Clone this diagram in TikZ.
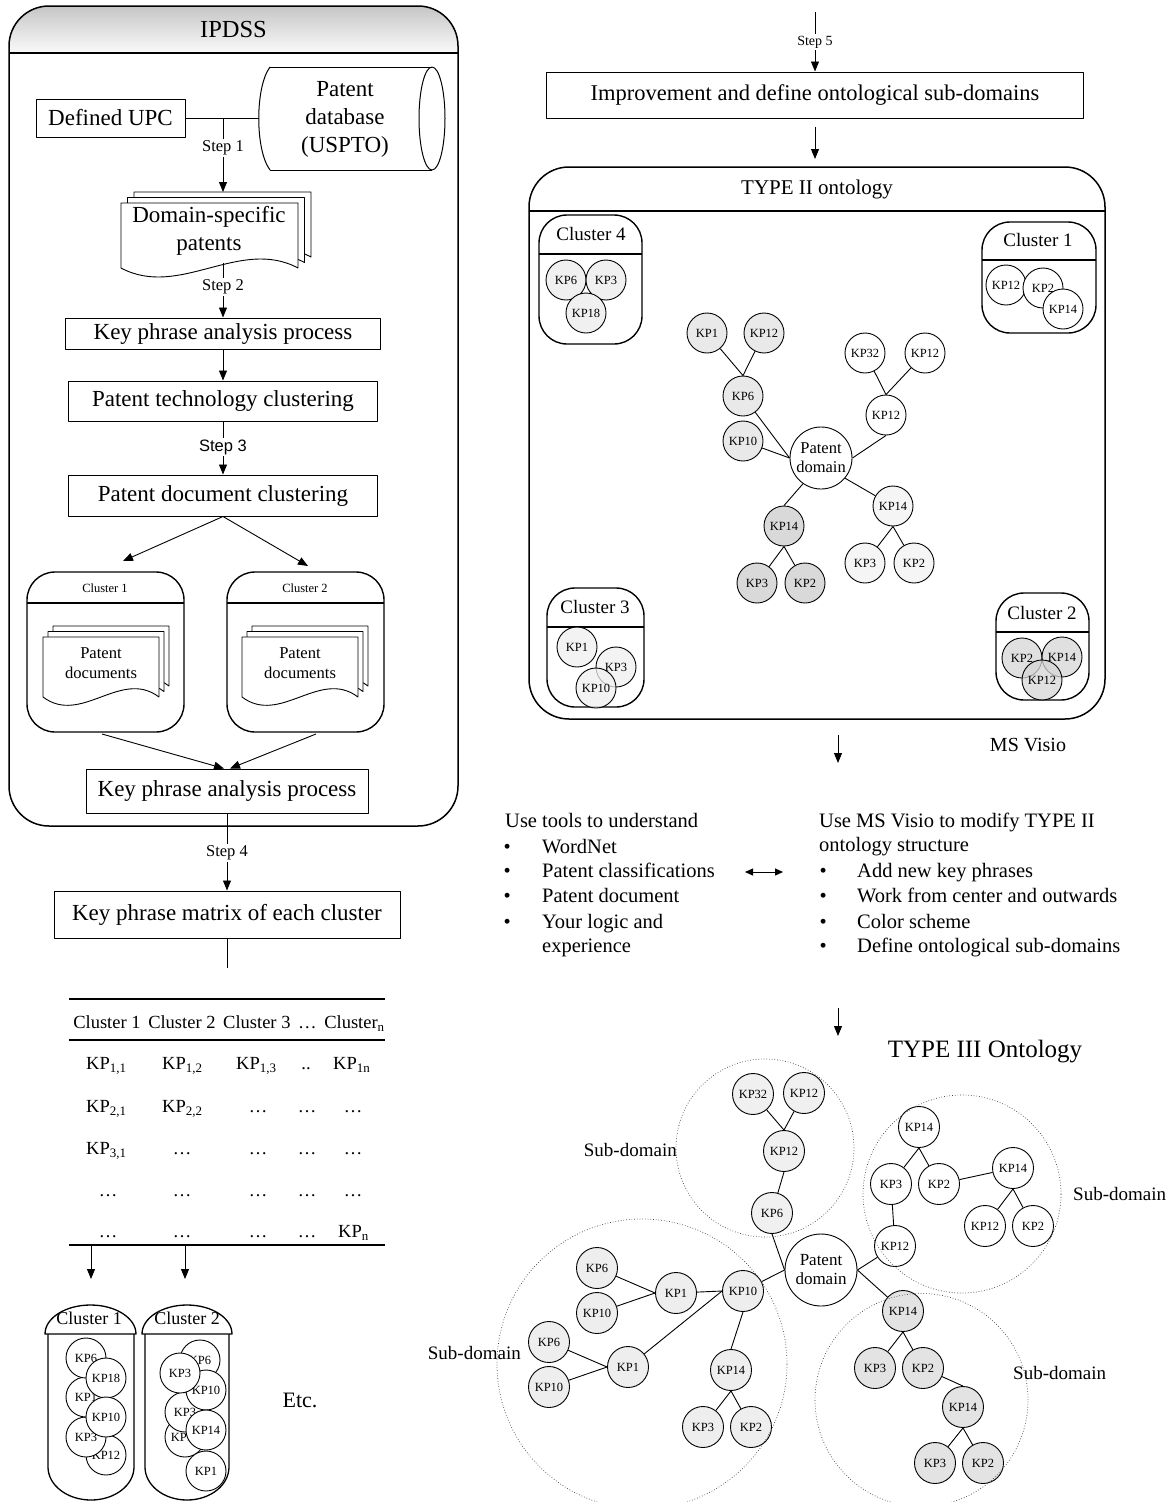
\documentclass[tikz,border=0pt]{standalone}
\usepackage{fontspec}
\setmainfont{Liberation Serif}
\newfontfamily\stepsans{Liberation Sans}
\usetikzlibrary{arrows.meta}
\newcommand{\fsz}[2]{\fontsize{#1}{#2}\selectfont}

% one paper sheet with a wavy lower edge: left, top, width, height
\newcommand{\papersheet}[4]{%
  \pgfmathsetmacro\psR{#1+#3}%
  \pgfmathsetmacro\psB{#2+#4}%
  \pgfmathsetmacro\psCa{#1+0.67*#3}%
  \pgfmathsetmacro\psCb{#1+0.33*#3}%
  \pgfmathsetmacro\psUp{#2+0.52*#4}%
  \pgfmathsetmacro\psDn{#2+1.48*#4}%
  \filldraw[fill=white, line width=0.9pt] (#1,#2) -- (\psR,#2) -- (\psR,\psB)
     .. controls (\psCa,\psUp) and (\psCb,\psDn) .. (#1,\psB) -- cycle;}
% three stacked sheets: left, top, width, height, x step, y step
\newcommand{\paperstack}[6]{%
  \papersheet{#1+2*#5}{#2-2*#6}{#3}{#4}%
  \papersheet{#1+#5}{#2-#6}{#3}{#4}%
  \papersheet{#1}{#2}{#3}{#4}}

\begin{document}
\begin{tikzpicture}[x=1pt, y=-1pt, line join=round,
  lbox/.style={draw, line width=1pt, inner sep=0pt, font=\fsz{23}{27}},
  arr/.style={line width=0.9pt, -{Triangle[length=10pt,width=8pt]}},
  conn/.style={line width=0.9pt},
  steplbl/.style={fill=white, inner sep=1.5pt, font=\fsz{16.5}{19}},
  holder/.style={draw, line width=1.4pt, rounded corners=28pt, inner sep=0pt},
  kp/.style={circle, draw, line width=0.9pt, minimum size=40pt, inner sep=0pt,
             font=\fsz{12.5}{14}, fill=white},
  kpb/.style={kp, minimum size=41pt},
  seeA/.style={fill=gray!12, fill opacity=0.75, text opacity=1},
  seeB/.style={fill=gray!32, fill opacity=0.75, text opacity=1},
  subdom/.style={dotted, line width=0.7pt, black!75},
  sublbl/.style={inner sep=0pt, font=\fsz{19}{22}},
  listtxt/.style={anchor=west, inner sep=0pt, font=\fsz{20.5}{25},
                  text height=14pt, text depth=4pt},
  tabtxt/.style={inner sep=0pt, font=\fsz{18.5}{22}, text height=13pt, text depth=4pt},
  ctitle/.style={inner sep=0pt, font=\fsz{19}{22}},
  pdnode/.style={circle, draw, line width=0.9pt, fill=white, inner sep=0pt, align=center}
]
\fill[white] (0,0) rectangle (1171,1502);
\useasboundingbox (0,0) rectangle (1171,1502);

% ================= IPDSS container =================
\begin{scope}
  \clip[rounded corners=40pt] (9,6) rectangle (458,826);
  \shade[top color=gray!45, bottom color=gray!4] (9,6) rectangle (458,53);
\end{scope}
\node[draw, line width=1.5pt, rounded corners=40pt, minimum width=449pt,
      minimum height=820pt, inner sep=0pt] (ipdss) at (233.5,416) {};
\draw[line width=1.3pt] (9,53) -- (458,53);
\node[font=\fsz{24.5}{28}] (ipdssT) at (233.5,30) {IPDSS};

% source boxes
\node[lbox, minimum width=149pt, minimum height=38pt] (upc) at (110.5,118) {Defined UPC};

% patent database drum
\fill[white] (270,67) -- (432,67) -- (432,170) -- (270,170)
   .. controls (255,150) and (255,87) .. (270,67) -- cycle;
\fill[white] (432,118.5) ellipse [x radius=13pt, y radius=51.5pt];
\draw[line width=1pt] (270,67) -- (432,67);
\draw[line width=1pt] (270,170) -- (432,170);
\draw[line width=1pt] (270,170) .. controls (255,150) and (255,87) .. (270,67);
\draw[line width=1pt] (432,118.5) ellipse [x radius=13pt, y radius=51.5pt];
\node[align=center, font=\fsz{23}{28}] (db) at (345,119) {Patent\\database\\(USPTO)};
\coordinate (dbin) at (259,118);
\coordinate (j1) at (223,118);

% domain-specific patents
\paperstack{121}{203}{177}{65}{6.5}{5.5}
\node[align=center, font=\fsz{23}{28}] (dsp) at (209,231) {Domain-specific\\patents};
\coordinate (dsptop) at (223,192);
\coordinate (dspbot) at (223,263);

% process boxes
\node[lbox, minimum width=315pt, minimum height=31pt] (kpa1) at (223,333.5) {Key phrase analysis process};
\node[lbox, minimum width=309pt, minimum height=40pt] (ptc) at (223,401) {Patent technology clustering};
\node[lbox, minimum width=309pt, minimum height=41pt] (pdc) at (223,495.5) {Patent document clustering};

% document clusters
\node[holder, minimum width=157pt, minimum height=160pt] (lc1) at (105.5,652) {};
\draw[line width=1.4pt] (27,603) -- (184,603);
\node[font=\fsz{12.5}{15}] (lc1t) at (105,588) {Cluster 1};
\paperstack{43}{637}{116}{60}{5}{5.5}
\node[align=center, font=\fsz{16.6}{20}] (lc1d) at (101,663) {Patent\\documents};

\node[holder, minimum width=157pt, minimum height=160pt] (lc2) at (305.5,652) {};
\draw[line width=1.4pt] (227,603) -- (384,603);
\node[font=\fsz{12.5}{15}] (lc2t) at (305,588) {Cluster 2};
\paperstack{242}{637}{116}{60}{5}{5.5}
\node[align=center, font=\fsz{16.6}{20}] (lc2d) at (300,663) {Patent\\documents};

\coordinate (lc1a) at (123,561);
\coordinate (lc2a) at (308,566);
\coordinate (lc1b) at (102,734);
\coordinate (lc2b) at (316,734);

\node[lbox, minimum width=282pt, minimum height=44pt] (kpa2) at (227,791) {Key phrase analysis process};
\node[lbox, minimum width=346pt, minimum height=47pt] (kpm) at (227,914.5) {Key phrase matrix of each cluster};
\coordinate (kpmend) at (227,968);

% connectors of the left column
\draw[conn] (upc.east) -- (dbin);
\draw[arr] (j1) -- (dsptop);
\node[steplbl] (st1) at (223,148) {Step 1};
\draw[arr] (dspbot) -- (kpa1.north);
\node[steplbl] (st2) at (223,287) {Step 2};
\draw[arr] (kpa1.south) -- (ptc.north);
\draw[arr] (ptc.south) -- (pdc.north);
\node[steplbl, font=\stepsans\fsz{16.5}{19}] (st3) at (223,447) {Step 3};
\draw[arr] (pdc.south) -- (lc1a);
\draw[arr] (pdc.south) -- (lc2a);
\draw[arr] (lc1b) -- ([xshift=-3pt]kpa2.north);
\draw[arr] (lc2b) -- ([xshift=3pt]kpa2.north);
\draw[arr] (kpa2.south) -- (kpm.north);
\node[steplbl] (st4) at (227,853) {Step 4};
\draw[conn] (kpm.south) -- (kpmend);

% ================= key phrase matrix =================
\draw[line width=2.2pt] (69,999) -- (385,999);
\draw[line width=1.8pt] (69,1040) -- (385,1040);
\draw[line width=2.2pt] (69,1245) -- (385,1245);
\node[tabtxt] (th) at (229,1024) {Cluster 1\hspace{3pt} Cluster 2\hspace{3pt} Cluster 3\hspace{3pt} …\hspace{3pt} Cluster\textsubscript{n}};
% row 1
\node[tabtxt, anchor=west] (m11) at (86,1065) {KP\textsubscript{1,1}};
\node[tabtxt, anchor=west] (m12) at (162,1065) {KP\textsubscript{1,2}};
\node[tabtxt, anchor=west] (m13) at (236,1065) {KP\textsubscript{1,3}};
\node[tabtxt] (m14) at (306,1065) {..};
\node[tabtxt, anchor=west] (m15) at (333,1065) {KP\textsubscript{1n}};
% row 2
\node[tabtxt, anchor=west] (m21) at (86,1108) {KP\textsubscript{2,1}};
\node[tabtxt, anchor=west] (m22) at (162,1108) {KP\textsubscript{2,2}};
\node[tabtxt] (m23) at (258,1108) {…};
\node[tabtxt] (m24) at (307,1108) {…};
\node[tabtxt] (m25) at (353,1108) {…};
% row 3
\node[tabtxt, anchor=west] (m31) at (86,1150) {KP\textsubscript{3,1}};
\node[tabtxt] (m32) at (182,1150) {…};
\node[tabtxt] (m33) at (258,1150) {…};
\node[tabtxt] (m34) at (307,1150) {…};
\node[tabtxt] (m35) at (353,1150) {…};
% row 4
\node[tabtxt] (m41) at (108,1192) {…};
\node[tabtxt] (m42) at (182,1192) {…};
\node[tabtxt] (m43) at (258,1192) {…};
\node[tabtxt] (m44) at (307,1192) {…};
\node[tabtxt] (m45) at (353,1192) {…};
% row 5
\node[tabtxt] (m51) at (108,1233) {…};
\node[tabtxt] (m52) at (182,1233) {…};
\node[tabtxt] (m53) at (258,1233) {…};
\node[tabtxt] (m54) at (307,1233) {…};
\node[tabtxt, anchor=west] (m55) at (338,1233) {KP\textsubscript{n}};

\coordinate (tc1) at (91,1246);
\coordinate (tc1e) at (91,1279);
\coordinate (tc2) at (185,1246);
\coordinate (tc2e) at (185,1279);
\draw[arr] (tc1) -- (tc1e);
\draw[arr] (tc2) -- (tc2e);

% ================= cluster capsules =================
\filldraw[fill=white, line width=1.3pt] (48,1334) -- (48,1467)
  .. controls (48,1485.2) and (67.25,1500) .. (91,1500)
  .. controls (114.75,1500) and (134,1485.2) .. (134,1467) -- (134,1334);
\filldraw[fill=white, line width=1.3pt] (45,1334) .. controls (45,1318) and (65.4,1305) .. (90.5,1305)
  .. controls (115.6,1305) and (136,1318) .. (136,1334) -- cycle;
\node[ctitle, font=\fsz{18}{21}] (p1t) at (89,1318) {Cluster 1};
\node[kp] (p1k12) at (106,1455) {KP12};
\node[kp] (p1k3) at (86,1437) {KP3};
\node[kp] (p1k1) at (86,1397) {KP1};
\node[kp] (p1k6) at (86,1358) {KP6};
\node[kp] (p1k18) at (106,1378) {KP18};
\node[kp] (p1k10) at (106,1417) {KP10};

\filldraw[fill=white, line width=1.3pt] (145,1334) -- (145,1467)
  .. controls (145,1485.2) and (163.8,1500) .. (187,1500)
  .. controls (210.2,1500) and (229,1485.2) .. (229,1467) -- (229,1334);
\filldraw[fill=white, line width=1.3pt] (142,1334) .. controls (142,1318) and (162.15,1305) .. (187,1305)
  .. controls (211.85,1305) and (232,1318) .. (232,1334) -- cycle;
\node[ctitle, font=\fsz{18}{21}] (p2t) at (187,1318) {Cluster 2};
\node[kp] (p2k6) at (200,1360) {KP6};
\node[kp] (p2k12) at (185,1437) {KP12};
\node[kp] (p2k3b) at (185,1412) {KP3};
\node[kp] (p2k10) at (206,1390) {KP10};
\node[kp] (p2k14) at (206,1430) {KP14};
\node[kp] (p2k3) at (180,1373) {KP3};
\node[kp] (p2k1) at (206,1471) {KP1};

\node[font=\fsz{22}{26}] (etc) at (300,1400) {Etc.};

% ================= right column: improvement step =================
\coordinate (s5a) at (815,12);
\node[lbox, minimum width=537pt, minimum height=46pt, font=\fsz{22.5}{26}] (imp) at (815,95)
  {Improvement and define ontological sub-domains};
\draw[arr] (s5a) -- (imp.north);
\node[steplbl, font=\fsz{14}{16}] (st5) at (815,42) {Step 5};
\coordinate (impa) at (815,127);
\coordinate (t2a) at (815,159);
\draw[arr] (impa) -- (t2a);

% ================= TYPE II ontology =================
\node[draw, line width=1.5pt, rounded corners=40pt, minimum width=576pt,
      minimum height=552pt, inner sep=0pt] (t2) at (817,443) {};
\draw[line width=1.3pt] (529,211) -- (1105,211);
\node[font=\fsz{21}{24}] (t2t) at (817,189) {TYPE II ontology};

% cluster 4
\node[holder, minimum width=103pt, minimum height=129pt] (c4) at (590.5,279.5) {};
\draw[line width=1.4pt] (539,254) -- (642,254);
\node[ctitle] (c4t) at (591,234) {Cluster 4};
\node[kp, fill=gray!12] (c4k6) at (566,280) {KP6};
\node[kp, fill=gray!12] (c4k3) at (606,280) {KP3};
\node[kp, fill=gray!12] (c4k18) at (586,313) {KP18};

% cluster 1
\node[holder, minimum width=114pt, minimum height=111pt] (c1) at (1039,277.5) {};
\draw[line width=1.4pt] (982,260) -- (1096,260);
\node[ctitle] (c1t) at (1038,240) {Cluster 1};
\node[kp] (c1k12) at (1006,285) {KP12};
\node[kp] (c1k2) at (1043,288) {KP2};
\node[kp] (c1k14) at (1063,309) {KP14};

% cluster 3
\node[holder, minimum width=97pt, minimum height=119pt] (c3) at (595.5,647.5) {};
\draw[line width=1.4pt] (547,627) -- (644,627);
\node[ctitle] (c3t) at (595,607) {Cluster 3};
\node[kp, seeA] (c3k1) at (577,647) {KP1};
\node[kp, seeA] (c3k3) at (616,667) {KP3};
\node[kp, seeA] (c3k10) at (596,688) {KP10};

% cluster 2
\node[holder, minimum width=93pt, minimum height=107pt] (c2) at (1042.5,646.5) {};
\draw[line width=1.4pt] (996,632) -- (1089,632);
\node[ctitle] (c2t) at (1042,613) {Cluster 2};
\node[kp, seeB] (c2k2) at (1022,658) {KP2};
\node[kp, seeB] (c2k14) at (1062,657) {KP14};
\node[kp, seeB] (c2k12) at (1042,680) {KP12};

% key phrase tree
\node[pdnode, minimum size=62pt, font=\fsz{16.5}{19}] (t2pd) at (821,458) {Patent\\domain};
\node[kp, fill=gray!17] (t2k1) at (707,333) {KP1};
\node[kp, fill=gray!17] (t2k12a) at (764,333) {KP12};
\node[kp, fill=gray!17] (t2k6) at (743,396) {KP6};
\node[kp, fill=gray!17] (t2k10) at (743,441) {KP10};
\node[kp] (t2k32) at (865,353) {KP32};
\node[kp] (t2k12b) at (925,353) {KP12};
\node[kp] (t2k12m) at (886,415) {KP12};
\node[kp, fill=gray!30] (t2k14a) at (784,526) {KP14};
\node[kp, fill=gray!30] (t2k3a) at (757,583) {KP3};
\node[kp, fill=gray!30] (t2k2a) at (805,583) {KP2};
\node[kp, fill=gray!8] (t2k14b) at (893,506) {KP14};
\node[kp, fill=gray!8] (t2k3b) at (865,563) {KP3};
\node[kp, fill=gray!8] (t2k2b) at (914,563) {KP2};

\draw[conn] (t2k6.north) -- (t2k1);
\draw[conn] (t2k6.north) -- (t2k12a);
\draw[conn] (t2k6) -- (t2pd.west);
\draw[conn] (t2k10) -- (t2pd.west);
\draw[conn] (t2k12m.north) -- (t2k32);
\draw[conn] (t2k12m.north) -- (t2k12b);
\draw[conn] (t2k12m.south) -- (t2pd.east);
\draw[conn] (t2pd.235) -- (t2k14a.north);
\draw[conn] (t2k14a.south) -- (t2k3a);
\draw[conn] (t2k14a.south) -- (t2k2a);
\draw[conn] (t2pd.320) -- (t2k14b);
\draw[conn] (t2k14b.south) -- (t2k3b);
\draw[conn] (t2k14b.south) -- (t2k2b);

% ================= editing with MS Visio =================
\coordinate (v1a) at (838,735);
\coordinate (v1b) at (838,763);
\draw[arr] (v1a) -- (v1b);
\node[inner sep=0pt, font=\fsz{20}{24}] (visio) at (1028,745) {MS Visio};

\node[listtxt] (la0) at (505,822) {Use tools to understand};
\node[listtxt] (lb1) at (503.5,848) {\textbullet};
\node[listtxt] (la1) at (542,848) {WordNet};
\node[listtxt] (lb2) at (503.5,872) {\textbullet};
\node[listtxt] (la2) at (542,872) {Patent classifications};
\node[listtxt] (lb3) at (503.5,897) {\textbullet};
\node[listtxt] (la3) at (542,897) {Patent document};
\node[listtxt] (lb4) at (503.5,923) {\textbullet};
\node[listtxt] (la4) at (542,923) {Your logic and};
\node[listtxt] (la5) at (542,947) {experience};

\coordinate (dl) at (745,872);
\coordinate (dr) at (783,872);
\draw[line width=0.9pt, {Triangle[length=8pt,width=7pt]}-{Triangle[length=8pt,width=7pt]}] (dl) -- (dr);

\node[listtxt] (ra0) at (819,822) {Use MS Visio to modify TYPE II};
\node[listtxt] (ra0b) at (819,846) {ontology structure};
\node[listtxt] (rb1) at (819.5,872) {\textbullet};
\node[listtxt] (ra1) at (857,872) {Add new key phrases};
\node[listtxt] (rb2) at (819.5,897) {\textbullet};
\node[listtxt] (ra2) at (857,897) {Work from center and outwards};
\node[listtxt] (rb3) at (819.5,923) {\textbullet};
\node[listtxt] (ra3) at (857,923) {Color scheme};
\node[listtxt] (rb4) at (819.5,947) {\textbullet};
\node[listtxt] (ra4) at (857,947) {Define ontological sub-domains};

\coordinate (v2a) at (838,1008);
\coordinate (v2b) at (838,1036);
\draw[arr] (v2a) -- (v2b);

% ================= TYPE III ontology =================
\node[font=\fsz{25}{29}] (t3t) at (985,1052) {TYPE III Ontology};

\node[pdnode, minimum size=72pt, font=\fsz{17}{19}] (pd3) at (821,1270) {Patent\\domain};

% upper sub-domain
\node[kpb, fill=gray!12] (u32) at (753,1094) {KP32};
\node[kpb, fill=gray!12] (u12) at (804,1093) {KP12};
\node[kpb, fill=gray!12] (u12m) at (784,1151) {KP12};
\node[kpb, fill=gray!12] (u6) at (772,1213) {KP6};

% right sub-domain
\node[kpb] (r14) at (919,1127) {KP14};
\node[kpb] (r3) at (891,1184) {KP3};
\node[kpb] (r2) at (939,1184) {KP2};
\node[kpb] (r14b) at (1013,1168) {KP14};
\node[kpb] (r12b) at (985,1226) {KP12};
\node[kpb] (r2b) at (1033,1226) {KP2};
\node[kpb] (r12) at (895,1246) {KP12};

% lower right sub-domain
\node[kpb, fill=gray!22] (b14) at (903,1311) {KP14};
\node[kpb, fill=gray!22] (b3) at (875,1368) {KP3};
\node[kpb, fill=gray!22] (b2) at (923,1368) {KP2};
\node[kpb, fill=gray!22] (b14b) at (963,1407) {KP14};
\node[kpb, fill=gray!22] (b3b) at (935,1463) {KP3};
\node[kpb, fill=gray!22] (b2b) at (983,1463) {KP2};

% lower left sub-domain
\node[kpb, fill=gray!13] (l6a) at (597,1268) {KP6};
\node[kpb, fill=gray!13] (l10a) at (597,1313) {KP10};
\node[kpb, fill=gray!13] (l1a) at (676,1293) {KP1};
\node[kpb, fill=gray!13] (l10h) at (743,1291) {KP10};
\node[kpb, fill=gray!13] (l6b) at (549,1342) {KP6};
\node[kpb, fill=gray!13] (l10b) at (549,1387) {KP10};
\node[kpb, fill=gray!13] (l1b) at (628,1367) {KP1};
\node[kpb, fill=gray!13] (l14) at (731,1370) {KP14};
\node[kpb, fill=gray!13] (l3) at (703,1427) {KP3};
\node[kpb, fill=gray!13] (l2) at (751,1427) {KP2};

% links of the TYPE III tree
\draw[conn] (u12m.north) -- (u32);
\draw[conn] (u12m.north) -- (u12);
\draw[conn] (u12m.south) -- (u6);
\draw[conn] (u6.south) -- (pd3.west);
\draw[conn] (l10h) -- (pd3.west);
\draw[conn] (pd3.east) -- (r12);
\draw[conn] (pd3.east) -- (b14);
\draw[conn] (r12) -- (r3);
\draw[conn] (r14.south) -- (r3);
\draw[conn] (r14.south) -- (r2);
\draw[conn] (r2) -- (r14b);
\draw[conn] (r14b.south) -- (r12b);
\draw[conn] (r14b.south) -- (r2b);
\draw[conn] (b14.south) -- (b3);
\draw[conn] (b14.south) -- (b2);
\draw[conn] (b2) -- (b14b.north);
\draw[conn] (b14b.south) -- (b3b);
\draw[conn] (b14b.south) -- (b2b);
\draw[conn] (l6a) -- (l1a.west);
\draw[conn] (l10a) -- (l1a.west);
\draw[conn] (l1a) -- (l10h.west);
\draw[conn] (l6b) -- (l1b.west);
\draw[conn] (l10b) -- (l1b.west);
\draw[conn] (l1b) -- (l10h.west);
\draw[conn] (l10h.south) -- (l14.north);
\draw[conn] (l14.south) -- (l3);
\draw[conn] (l14.south) -- (l2);

% sub-domain borders
\draw[subdom] (765,1148) circle [radius=89pt];
\draw[subdom] (962,1194) circle [radius=99pt];
\draw[subdom] (921.5,1400) circle [radius=106.5pt];
\draw[subdom] (642,1364) circle [radius=145pt];
\node[sublbl, anchor=east] (sd1) at (677,1150) {Sub-domain};
\node[sublbl, anchor=west] (sd2) at (1073,1194) {Sub-domain};
\node[sublbl, anchor=west] (sd3) at (1013,1373) {Sub-domain};
\node[sublbl, anchor=east] (sd4) at (521,1353) {Sub-domain};
\end{tikzpicture}
\end{document}
